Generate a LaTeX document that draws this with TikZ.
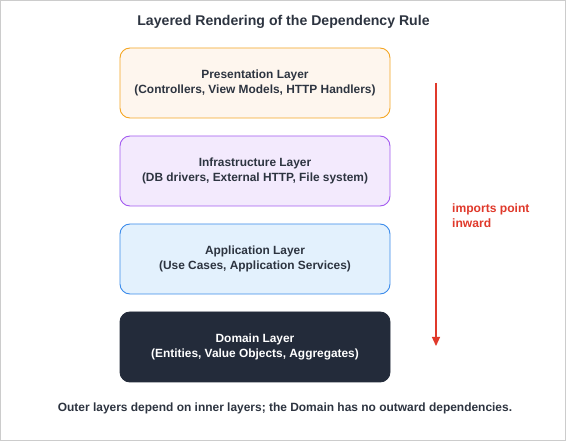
\documentclass[tikz,border=0pt]{standalone}
\usepackage{fontspec}
\setmainfont{Liberation Sans}
\usetikzlibrary{arrows.meta}
\definecolor{txt}{HTML}{2D3440}
\definecolor{presfill}{HTML}{FEF6EE}
\definecolor{presdraw}{HTML}{F5A623}
\definecolor{infrafill}{HTML}{F3EAFD}
\definecolor{infradraw}{HTML}{A35BF0}
\definecolor{appfill}{HTML}{E3F1FD}
\definecolor{appdraw}{HTML}{3B8BEB}
\definecolor{domfill}{HTML}{232B3A}
\definecolor{arrowred}{HTML}{E0392B}
\definecolor{frame}{HTML}{CCCCCC}
\tikzset{
  layer/.style={draw, rounded corners=10pt, minimum width=270pt, minimum height=70pt,
    align=center, font=\fontsize{11.9}{15}\selectfont\bfseries, text=txt, line width=0.9pt},
  note/.style={font=\fontsize{11.95}{15}\selectfont\bfseries, inner sep=0pt}
}
\begin{document}
\begin{tikzpicture}[x=1pt,y=-1pt]
\draw[frame, line width=1pt, fill=white] (0.5,0.5) rectangle (565.5,440.5);
\useasboundingbox (0,0) rectangle (566,441);
\node[note, text=txt, font=\fontsize{14.1}{16}\selectfont\bfseries] (title) at (283.5,22) {Layered Rendering of the Dependency Rule};
\node[layer, fill=presfill, draw=presdraw] (pres) at (255,83) {Presentation Layer\\(Controllers, View Models, HTTP Handlers)};
\node[layer, fill=infrafill, draw=infradraw] (infra) at (255,171) {Infrastructure Layer\\(DB drivers, External HTTP, File system)};
\node[layer, fill=appfill, draw=appdraw] (app) at (255,259) {Application Layer\\(Use Cases, Application Services)};
\node[layer, fill=domfill, draw=domfill, text=white] (dom) at (255,347) {Domain Layer\\(Entities, Value Objects, Aggregates)};
\coordinate (atop) at (436,83);
\coordinate (abot) at (436,346);
\draw[arrowred, line width=1.2pt, -{Triangle[length=9pt,width=8pt]}] (atop) -- (abot);
\node[note, text=arrowred, anchor=west, align=left, font=\fontsize{12.1}{15}\selectfont\bfseries] (lbl) at (452,216) {imports point\\inward};
\node[note, text=txt] (foot) at (285,408) {Outer layers depend on inner layers; the Domain has no outward dependencies.};
\end{tikzpicture}
\end{document}
